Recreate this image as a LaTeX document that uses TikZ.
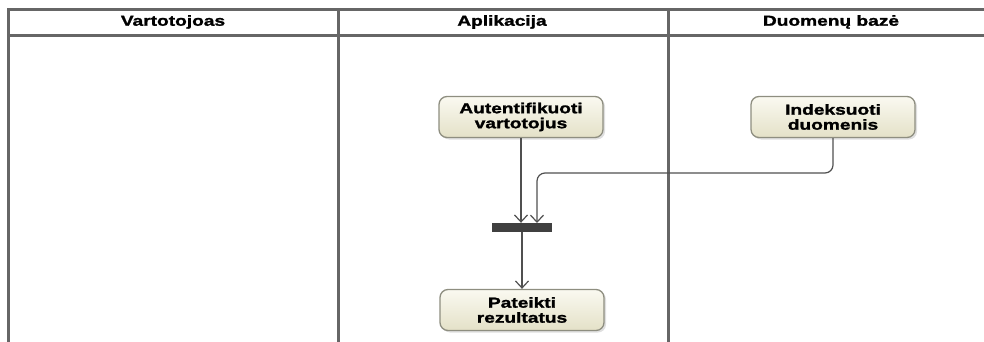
\documentclass[tikz,border=0pt]{standalone}
\usepackage{fontspec}
\setmainfont{Liberation Sans}[FakeStretch=1.32, FakeBold=1.6]
\usetikzlibrary{arrows.meta,shadows}
\definecolor{laneline}{HTML}{666666}
\definecolor{flow}{HTML}{505050}
\definecolor{actborder}{HTML}{8E8E80}
\definecolor{acttop}{HTML}{FAF9F0}
\definecolor{actbot}{HTML}{E4E1C8}
\tikzset{
  lane/.style={draw=laneline, line width=3pt},
  lanehead/.style={font=\fontsize{14.5}{15}\selectfont\bfseries, anchor=center},
  action/.style={draw=actborder, line width=1.3pt, rounded corners=8pt,
    top color=acttop, bottom color=actbot, minimum width=164pt, minimum height=41pt,
    align=center, font=\fontsize{14.5}{15}\selectfont\bfseries,
    drop shadow={shadow xshift=2pt, shadow yshift=-2pt, opacity=0.25, fill=gray}},
  forkbar/.style={fill=black!75, minimum width=60pt, minimum height=9pt, inner sep=0pt},
  flowline/.style={draw=flow, line width=1.2pt, -{Straight Barb[length=7pt,width=13pt,line width=1.2pt]}}
}
\begin{document}
\begin{tikzpicture}[x=1pt,y=-1pt]
\useasboundingbox (0,0) rectangle (984,342);
% swimlane frame
\draw[lane] (8,342) -- (8,10) -- (995,10);
\draw[lane] (8,36) -- (995,36);
\draw[lane] (338,10) -- (338,342);
\draw[lane] (668,10) -- (668,342);
\node[lanehead] (h1) at (173,22) {Vartotojoas};
\node[lanehead] (h2) at (502,22) {Aplikacija};
\node[lanehead] (h3) at (831,22) {Duomenų bazė};
% actions
\node[action] (auth) at (521,117) {Autentifikuoti\\vartotojus};
\node[action] (idx) at (833,117) {Indeksuoti\\duomenis};
\node[forkbar] (join) at (522,227.5) {};
\node[action] (res) at (522,310) {Pateikti\\rezultatus};
% flows
\draw[flowline] (auth.south) -- (auth.south |- join.north);
\draw[flowline, rounded corners=8pt] (idx.south) -- (833,173) -- (537,173) -- (537,223);
\draw[flowline] (join.south -| res.north) -- (res.north);
\end{tikzpicture}
\end{document}
